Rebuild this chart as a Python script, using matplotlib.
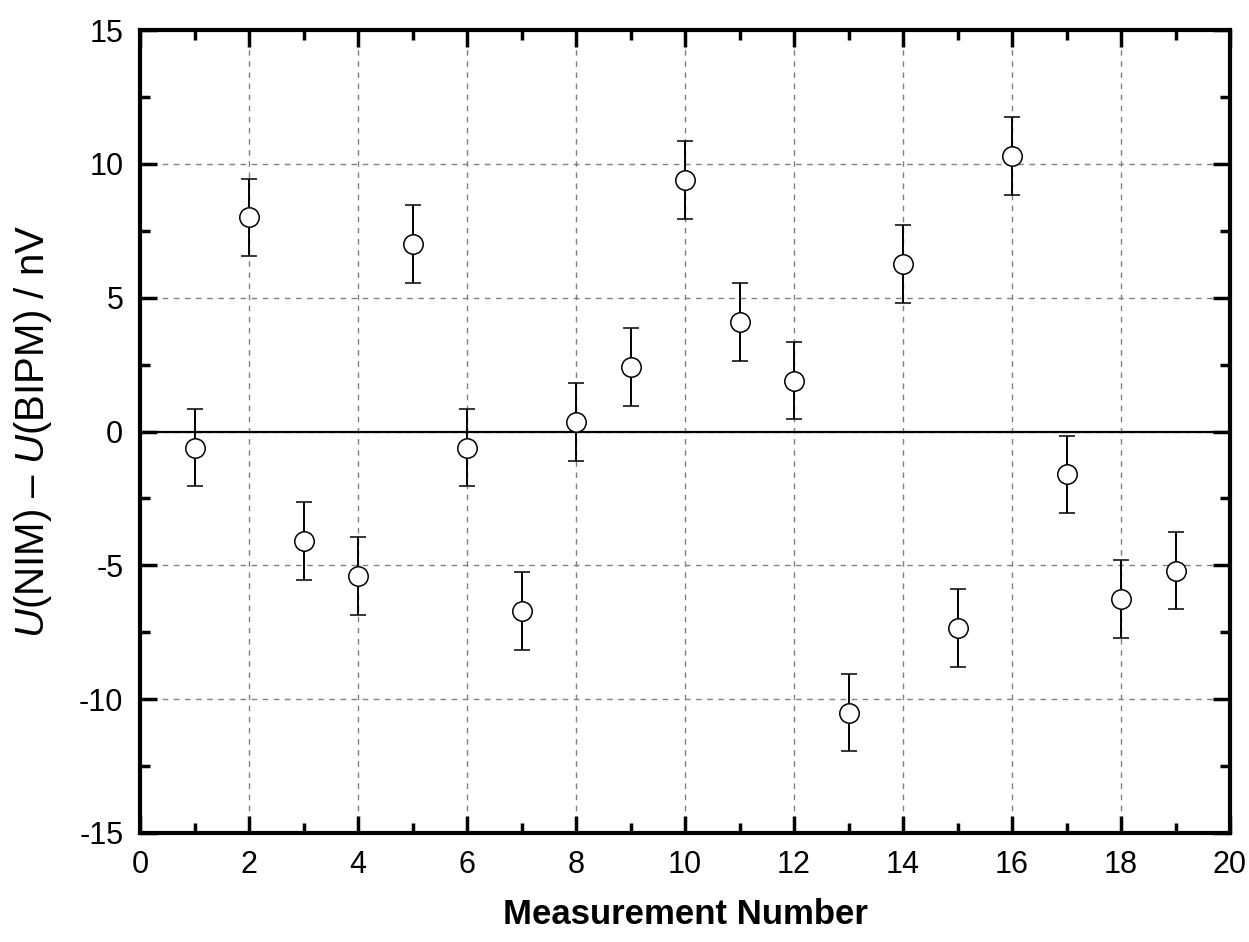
import matplotlib
matplotlib.use("Agg")
from matplotlib import pyplot as plt
from matplotlib.ticker import MultipleLocator

# measurement data
meas_no = [1, 2, 3, 4, 5, 6, 7, 8, 9, 10, 11, 12, 13, 14, 15, 16, 17, 18, 19]
diff_nv = [-0.6, 8.0, -4.1, -5.4, 7.0, -0.6, -6.7, 0.35, 2.4, 9.4,
           4.1, 1.9, -10.5, 6.25, -7.35, 10.3, -1.6, -6.25, -5.2]
unc_nv = [1.45] * 19

plt.rcParams['font.family'] = ['Liberation Sans', 'DejaVu Sans']
plt.rcParams['mathtext.fontset'] = 'custom'
plt.rcParams['mathtext.rm'] = 'Liberation Sans'
plt.rcParams['mathtext.it'] = 'Liberation Sans:italic'
plt.rcParams['axes.unicode_minus'] = False

fig = plt.figure(figsize=(12.49, 9.42), dpi=100)
ax = fig.add_axes([140 / 1249, 1 - 833 / 942, (1230 - 140) / 1249, (833 - 30) / 942])

ax.axhline(0, color='black', lw=1.6, zorder=2)
ax.errorbar(meas_no, diff_nv, yerr=unc_nv, fmt='o', color='black',
            mfc='white', mec='black', ms=14, mew=1.1, elinewidth=1.4,
            capsize=6, capthick=1.4, zorder=3)

ax.set_xlim(0, 20)
ax.set_ylim(-15, 15)
ax.xaxis.set_major_locator(MultipleLocator(2))
ax.xaxis.set_minor_locator(MultipleLocator(1))
ax.yaxis.set_major_locator(MultipleLocator(5))
ax.yaxis.set_minor_locator(MultipleLocator(2.5))
ax.tick_params(which='both', direction='in', top=True, right=True,
               labelsize=22, width=2.5, pad=12)
ax.tick_params(which='major', length=12)
ax.tick_params(which='minor', length=7)
for sp in ax.spines.values():
    sp.set_linewidth(3)

ax.grid(True, which='major', color='grey', linestyle=(0, (4, 4)), lw=1)

ax.set_xlabel('Measurement Number', fontsize=25, fontweight='bold', labelpad=13)
ax.set_ylabel('$\\it{U}$(NIM) – $\\it{U}$(BIPM) / nV', fontsize=29, labelpad=18)

plt.savefig('out.png')
